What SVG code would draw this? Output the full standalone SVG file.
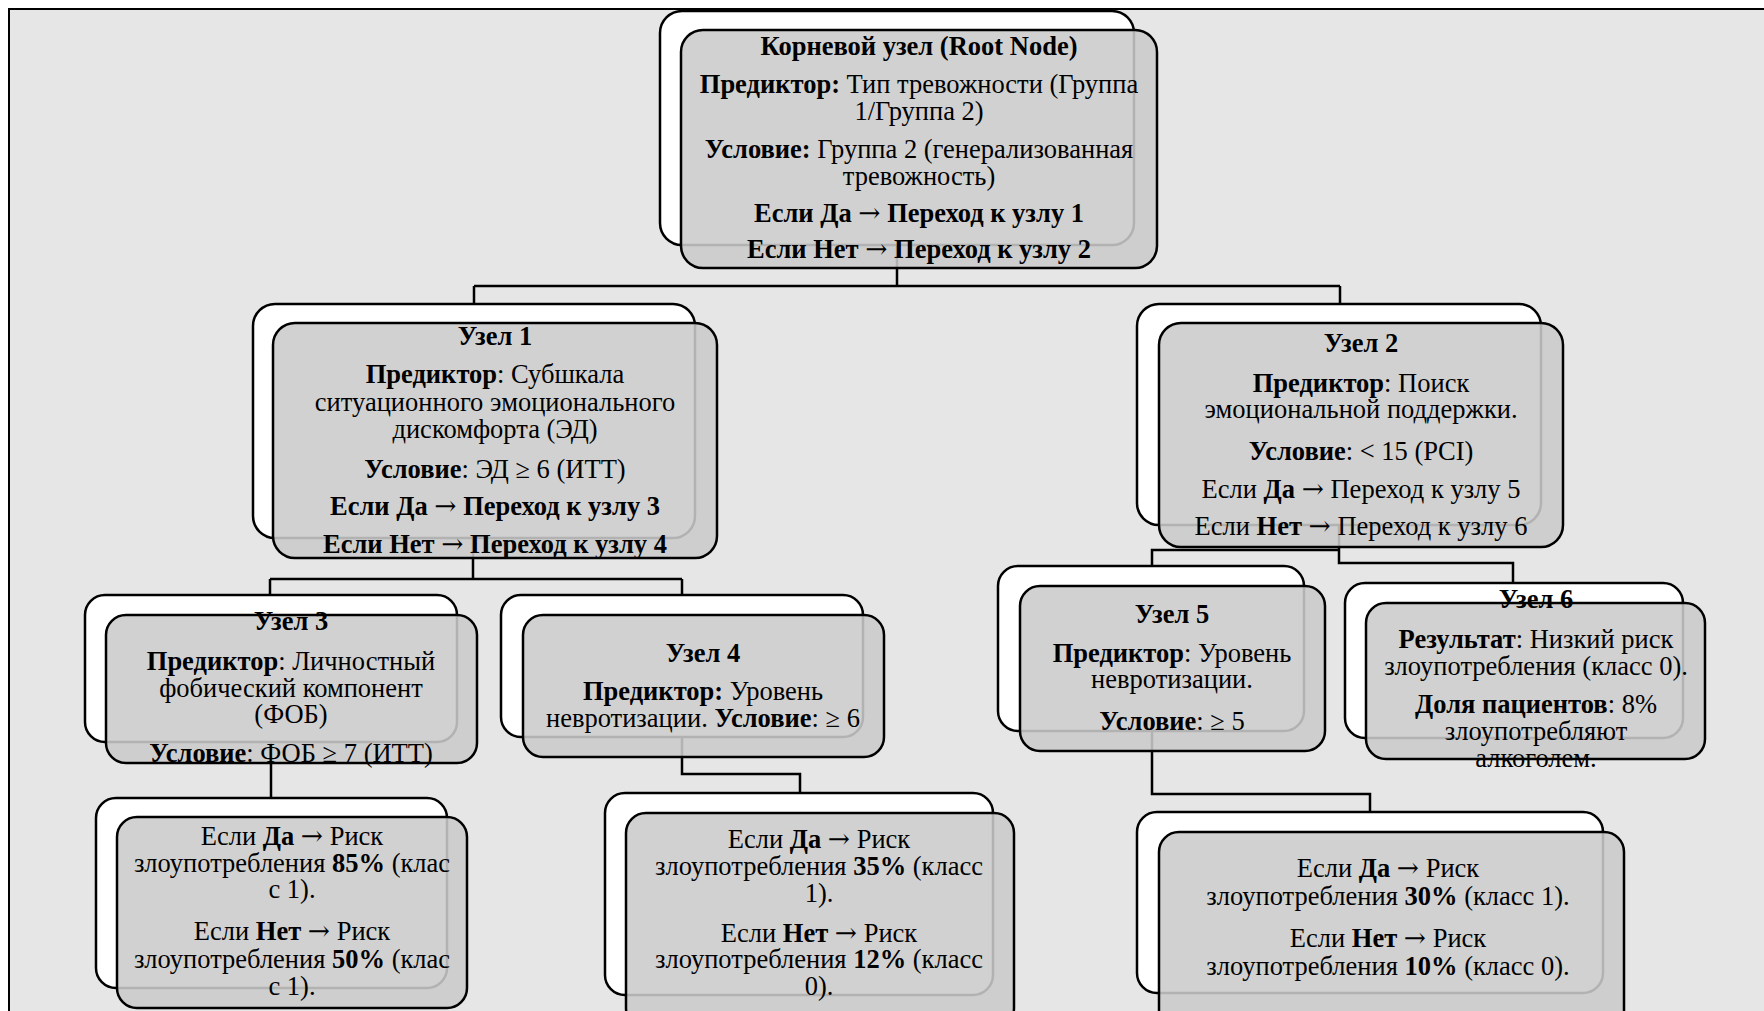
<svg xmlns="http://www.w3.org/2000/svg" width="1764" height="1011" viewBox="0 0 1764 1011">
<style>
.w{fill:#fff;stroke:#000;stroke-width:2.5}
.g{fill:#cbcbcb;fill-opacity:0.88;stroke:#000;stroke-width:2.5}
.t{font-family:"Liberation Serif","Times New Roman",serif;font-size:26.5px;text-anchor:middle;fill:#000}
.b{font-weight:bold}
.a{font-family:"DejaVu Serif",serif;font-weight:normal}
.c{fill:none;stroke:#000;stroke-width:2.5}
</style>
<rect x="0" y="0" width="1764" height="1011" fill="#fff"/>
<rect x="9" y="9" width="1760" height="1010" fill="#e6e6e6"/>
<path d="M9 1011 V9 H1764" fill="none" stroke="#000" stroke-width="2"/>
<g id="connectors">
<path class="c" d="M897 200 V286 M474 286 H1340 M474 286 V400 M1340 286 V400"/>
<path class="c" d="M473 450 V579 M270 579 H682 M270 579 V650 M682 579 V650"/>
<path class="c" d="M1152 620 V550 H1339 M1339 450 V563 H1513 V650"/>
<path class="c" d="M271 700 V850"/>
<path class="c" d="M682 700 V774 H800 V850"/>
<path class="c" d="M1152 700 V794 H1370 V850"/>
</g>
<g id="root">
<rect class="w" x="660" y="11" width="474" height="234" rx="22"/>
<rect class="g" x="681" y="30" width="476" height="238" rx="22"/>
<text class="t" x="919" y="55"><tspan class="b">Корневой узел (Root Node)</tspan></text>
<text class="t" x="919" y="93"><tspan class="b">Предиктор:</tspan> Тип тревожности (Группа</text>
<text class="t" x="919" y="120">1/Группа 2)</text>
<text class="t" x="919" y="158"><tspan class="b">Условие:</tspan> Группа 2 (генерализованная</text>
<text class="t" x="919" y="185">тревожность)</text>
<text class="t b" x="919" y="222">Если Да <tspan class="a">→</tspan> Переход к узлу 1</text>
<text class="t b" x="919" y="258">Если Нет <tspan class="a">→</tspan> Переход к узлу 2</text>
</g>
<g id="node1">
<rect class="w" x="253" y="304" width="442" height="234" rx="22"/>
<rect class="g" x="273" y="323" width="444" height="235" rx="22"/>
<text class="t b" x="495" y="345">Узел 1</text>
<text class="t" x="495" y="383"><tspan class="b">Предиктор</tspan>: Субшкала</text>
<text class="t" x="495" y="411">ситуационного эмоционального</text>
<text class="t" x="495" y="438">дискомфорта (ЭД)</text>
<text class="t" x="495" y="478"><tspan class="b">Условие</tspan>: ЭД ≥ 6 (ИТТ)</text>
<text class="t b" x="495" y="515">Если Да <tspan class="a">→</tspan> Переход к узлу 3</text>
<text class="t b" x="495" y="553">Если Нет <tspan class="a">→</tspan> Переход к узлу 4</text>
</g>
<g id="node2">
<rect class="w" x="1137" y="304" width="404" height="221" rx="22"/>
<rect class="g" x="1159" y="323" width="404" height="224" rx="22"/>
<text class="t b" x="1361" y="352">Узел 2</text>
<text class="t" x="1361" y="392"><tspan class="b">Предиктор</tspan>: Поиск</text>
<text class="t" x="1361" y="418">эмоциональной поддержки.</text>
<text class="t" x="1361" y="460"><tspan class="b">Условие</tspan>: &lt; 15 (PCI)</text>
<text class="t" x="1361" y="498">Если <tspan class="b">Да</tspan> <tspan class="a">→</tspan> Переход к узлу 5</text>
<text class="t" x="1361" y="535">Если <tspan class="b">Нет</tspan> <tspan class="a">→</tspan> Переход к узлу 6</text>
</g>
<g id="node3">
<rect class="w" x="85" y="595" width="372" height="147" rx="20"/>
<rect class="g" x="106" y="615" width="371" height="148" rx="20"/>
<text class="t b" x="291" y="630">Узел 3</text>
<text class="t" x="291" y="670"><tspan class="b">Предиктор</tspan>: Личностный</text>
<text class="t" x="291" y="697">фобический компонент</text>
<text class="t" x="291" y="723">(ФОБ)</text>
<text class="t" x="291" y="762"><tspan class="b">Условие</tspan>: ФОБ ≥ 7 (ИТТ)</text>
</g>
<g id="node4">
<rect class="w" x="501" y="595" width="362" height="142" rx="20"/>
<rect class="g" x="523" y="615" width="361" height="142" rx="20"/>
<text class="t b" x="703" y="662">Узел 4</text>
<text class="t" x="703" y="700"><tspan class="b">Предиктор:</tspan> Уровень</text>
<text class="t" x="703" y="727">невротизации. <tspan class="b">Условие</tspan>: ≥ 6</text>
</g>
<g id="node5">
<rect class="w" x="998" y="566" width="306" height="165" rx="20"/>
<rect class="g" x="1020" y="586" width="305" height="165" rx="20"/>
<text class="t b" x="1172" y="623">Узел 5</text>
<text class="t" x="1172" y="662"><tspan class="b">Предиктор</tspan>: Уровень</text>
<text class="t" x="1172" y="688">невротизации.</text>
<text class="t" x="1172" y="730"><tspan class="b">Условие</tspan>: ≥ 5</text>
</g>
<g id="node6">
<rect class="w" x="1345" y="583" width="338" height="155" rx="20"/>
<rect class="g" x="1366" y="603" width="339" height="156" rx="20"/>
<text class="t b" x="1536" y="608">Узел 6</text>
<text class="t" x="1536" y="648"><tspan class="b">Результат</tspan>: Низкий риск</text>
<text class="t" x="1536" y="675">злоупотребления (класс 0).</text>
<text class="t" x="1536" y="713"><tspan class="b">Доля пациентов</tspan>: 8%</text>
<text class="t" x="1536" y="740">злоупотребляют</text>
<text class="t" x="1536" y="767">алкоголем.</text>
</g>
<g id="leaf3">
<rect class="w" x="96" y="798" width="351" height="190" rx="20"/>
<rect class="g" x="117" y="817" width="350" height="191" rx="20"/>
<text class="t" x="292" y="845">Если <tspan class="b">Да</tspan> <tspan class="a">→</tspan> Риск</text>
<text class="t" x="292" y="872">злоупотребления <tspan class="b">85%</tspan> (клас</text>
<text class="t" x="292" y="898">с 1).</text>
<text class="t" x="292" y="940">Если <tspan class="b">Нет</tspan> <tspan class="a">→</tspan> Риск</text>
<text class="t" x="292" y="968">злоупотребления <tspan class="b">50%</tspan> (клас</text>
<text class="t" x="292" y="995">с 1).</text>
</g>
<g id="leaf4">
<rect class="w" x="605" y="793" width="388" height="202" rx="20"/>
<rect class="g" x="626" y="813" width="388" height="215" rx="20"/>
<text class="t" x="819" y="848">Если <tspan class="b">Да</tspan> <tspan class="a">→</tspan> Риск</text>
<text class="t" x="819" y="875">злоупотребления <tspan class="b">35%</tspan> (класс</text>
<text class="t" x="819" y="902">1).</text>
<text class="t" x="819" y="942">Если <tspan class="b">Нет</tspan> <tspan class="a">→</tspan> Риск</text>
<text class="t" x="819" y="968">злоупотребления <tspan class="b">12%</tspan> (класс</text>
<text class="t" x="819" y="995">0).</text>
</g>
<g id="leaf5">
<rect class="w" x="1137" y="812" width="466" height="181" rx="20"/>
<rect class="g" x="1159" y="832" width="465" height="200" rx="20"/>
<text class="t" x="1388" y="877">Если <tspan class="b">Да</tspan> <tspan class="a">→</tspan> Риск</text>
<text class="t" x="1388" y="905">злоупотребления <tspan class="b">30%</tspan> (класс 1).</text>
<text class="t" x="1388" y="947">Если <tspan class="b">Нет</tspan> <tspan class="a">→</tspan> Риск</text>
<text class="t" x="1388" y="975">злоупотребления <tspan class="b">10%</tspan> (класс 0).</text>
</g>
</svg>
